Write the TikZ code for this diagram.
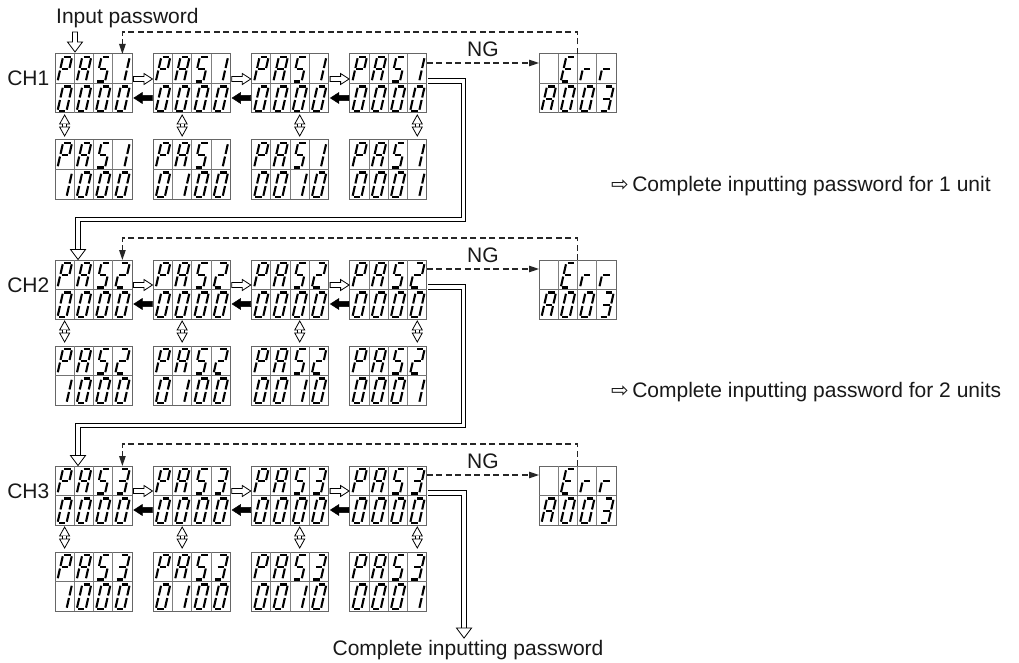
\documentclass[tikz,border=0pt]{standalone}
\usepackage{fontspec}
\setmainfont{Liberation Sans}
\newfontfamily\dejavu{DejaVu Sans}
\usetikzlibrary{arrows.meta,calc}

\tikzset{
  seg/.style={draw=black, line width=2.1pt, shorten <=1.3pt, shorten >=1.3pt, line cap=butt},
  cellgrid/.style={draw=black!50, line width=0.8pt},
  midline/.style={draw=black!55, line width=1.6pt},
  dispbox/.style={draw=black!60, line width=1pt, minimum width=77pt, minimum height=59pt, inner sep=0pt, outer sep=0pt},
  hollowarr/.style={draw=black, line width=0.8pt, fill=white, line join=miter},
  fillarr/.style={draw=black, fill=black, line width=0.5pt, line join=miter},
  dashedarr/.style={draw=black!85, line width=1.1pt, dash pattern=on 6pt off 3.5pt, -{Triangle[length=10pt,width=6.5pt]}},
  dbl/.style={draw=black, line width=1.1pt, double=white, double distance=3.2pt, line join=miter},
  lbl/.style={font=\fontsize{21}{25}\selectfont, text=black!90, inner sep=0pt},
}

% segments (cell-local coordinates, y down)
\newcommand\sgA{\draw[seg] (8,3) -- (17,3);}
\newcommand\sgB{\draw[seg] (17,3) -- (14.25,15.25);}
\newcommand\sgC{\draw[seg] (14.25,15.25) -- (11.5,27.5);}
\newcommand\sgD{\draw[seg] (2.5,27.5) -- (11.5,27.5);}
\newcommand\sgE{\draw[seg] (5.25,15.25) -- (2.5,27.5);}
\newcommand\sgF{\draw[seg] (8,3) -- (5.25,15.25);}
\newcommand\sgG{\draw[seg] (5.25,15.25) -- (14.25,15.25);}

\expandafter\def\csname ch0\endcsname{\sgA\sgB\sgC\sgD\sgE\sgF}
\expandafter\def\csname ch1\endcsname{\sgB\sgC}
\expandafter\def\csname ch2\endcsname{\sgA\sgB\sgG\sgE\sgD}
\expandafter\def\csname ch3\endcsname{\sgA\sgB\sgG\sgC\sgD}
\expandafter\def\csname chS\endcsname{\sgA\sgF\sgG\sgC\sgD}
\expandafter\def\csname chP\endcsname{\sgA\sgB\sgF\sgG\sgE}
\expandafter\def\csname chA\endcsname{\sgA\sgB\sgC\sgE\sgF\sgG}
\expandafter\def\csname chE\endcsname{\sgA\sgF\sgG\sgE\sgD}
\expandafter\def\csname chr\endcsname{\sgE\sgG}
\expandafter\def\csname chX\endcsname{}

% display: name, x, y (top-left), top chars, bottom chars
\newcommand\disp[5]{%
  \node[dispbox, anchor=north west] (#1) at (#2,#3) {};
  \foreach \k in {1,2,3}{\draw[cellgrid] (#2+19.25*\k,#3) -- (#2+19.25*\k,#3+59);}
  \draw[midline] (#2,#3+29.5) -- (#2+77,#3+29.5);
  \edef\toplist{#4}%
  \foreach \dch [count=\k] in \toplist {%
    \begin{scope}[shift={(#2+19.25*\k-19.25,#3)}]\csname ch\dch\endcsname\end{scope}}
  \edef\botlist{#5}%
  \foreach \dch [count=\k] in \botlist {%
    \begin{scope}[shift={(#2+19.25*\k-19.25,#3+29.5)}]\csname ch\dch\endcsname\end{scope}}
}

\newcommand\hollowR[1]{\draw[hollowarr] #1 ++(0,-2.5) -- ++(10.5,0) -- ++(0,-3) -- ++(8.5,5.5) -- ++(-8.5,5.5) -- ++(0,-3) -- ++(-10.5,0) -- cycle;}
\newcommand\fillL[1]{\draw[fillarr] #1 ++(0,-2.7) -- ++(-10,0) -- ++(0,-2.8) -- ++(-8.5,5.5) -- ++(8.5,5.5) -- ++(0,-2.8) -- ++(10,0) -- cycle;}
\newcommand\updown[1]{%
  \draw[hollowarr, line width=0.8pt] #1 -- ++(5,9) -- ++(-10,0) -- cycle;
  \draw[hollowarr, line width=0.8pt] #1 ++(-2,9) -- ++(0,3) -- ++(4,0) -- ++(0,-3);
  \draw[hollowarr, line width=0.8pt] #1 ++(-5,12) -- ++(10,0) -- ++(-5,9) -- cycle;}
\newcommand\headdown[1]{\draw[hollowarr] #1 ++(-7.5,0) -- ++(15,0) -- ++(-7.5,10) -- cycle;}

\begin{document}
\begin{tikzpicture}[x=1pt,y=-1pt]
\fill[white] (0,0) rectangle (1019,663);
\useasboundingbox (0,0) rectangle (1019,663);

\foreach \r/\n in {0/1,1/2,2/3}{
  \pgfmathsetmacro\Y{54+206*\r}
  \pgfmathsetmacro\YL{\Y+86}
  \foreach \i/\bl in {0/{1,0,0,0},1/{0,1,0,0},2/{0,0,1,0},3/{0,0,0,1}}{
    \pgfmathsetmacro\X{55+98.3*\i}
    \disp{u\r\i}{\X}{\Y}{P,A,S,\n}{0,0,0,0}
    \disp{l\r\i}{\X}{\YL}{P,A,S,\n}{\bl}
  }
  \disp{e\r}{539}{\Y}{X,E,r,r}{A,0,0,3}
  \node[lbl, anchor=base east] at (49.5,\Y+32) {CH\n};
  \foreach \i [evaluate=\i as \j using int(\i+1)] in {0,1,2}{
    \hollowR{($(u\r\i.north east)+(1.5,25)$)}
    \fillL{($(u\r\j.north west)+(-1,44)$)}
  }
  \foreach \i in {0,1,2,3}{
    \updown{($(u\r\i.south west)+(19.25*\i+9.625,2)$)}
  }
  \draw[dashedarr] (e\r.north) -- ++(0,-22) -| ($(u\r0.north west)+(67.4,0)$);
  \draw[dashedarr] ($(u\r3.north east)+(0,9)$) -- ($(e\r.north west)+(0,9)$)
     node[lbl, midway, above=6pt] {NG};
}

% input password
\node[lbl, anchor=base west] (inp) at (56,24) {Input password};
\draw[hollowarr] (72.5,32) -- (72.5,42) -- (67.5,42) -- (75,52) -- (82.5,42) -- (77.5,42) -- (77.5,32) -- cycle;

% double-line connectors
\draw[dbl] ($(u03.north east)+(1,27)$) -- ++(35.5,0) -- ++(0,138.5) -| ($(u10.north west)+(23,-10)$);
\headdown{($(u10.north west)+(23,-10.5)$)}
\draw[dbl] ($(u13.north east)+(1,27)$) -- ++(35.5,0) -- ++(0,138.5) -| ($(u20.north west)+(23,-10)$);
\headdown{($(u20.north west)+(23,-10.5)$)}
\node[lbl, anchor=base] (fin) at (468,655) {Complete inputting password};
\draw[dbl] ($(u23.north east)+(1,27)$) -| ($(fin.north)+(-4,-11)$);
\headdown{($(fin.north)+(-4,-11.5)$)}

% side notes
\node[lbl, anchor=base west] at (611,191) {{\dejavu\fontsize{21}{25}\selectfont ⇨}\,Complete inputting password for 1 unit};
\node[lbl, anchor=base west] at (611,397) {{\dejavu\fontsize{21}{25}\selectfont ⇨}\,Complete inputting password for 2 units};
\end{tikzpicture}
\end{document}
